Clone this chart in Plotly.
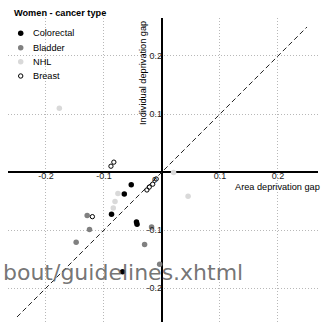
import plotly.graph_objects as go

# Figure geometry (pixels)
W, H = 324, 324
M = dict(l=8, r=6, t=18, b=2)
PW = W - M["l"] - M["r"]
PH = H - M["t"] - M["b"]

x_range = [-0.2655, 0.269]
y_range = [-0.2586, 0.2655]

FONT = "Liberation Sans, Arial, sans-serif"

# Data: area deprivation gap (x) vs individual deprivation gap (y)
categories = ["Colorectal", "Bladder", "NHL", "Breast"]

colorectal_x = [-0.053, -0.065, -0.087, -0.044, -0.043, -0.068]
colorectal_y = [-0.022, -0.038, -0.073, -0.086, -0.090, -0.172]

bladder_x = [-0.129, -0.125, -0.148, -0.018, -0.030, -0.004]
bladder_y = [-0.075, -0.099, -0.121, -0.095, -0.125, -0.159]

nhl_x = [-0.076, -0.081, -0.084, -0.177, 0.020, 0.045]
nhl_y = [-0.037, -0.051, -0.062, 0.110, -0.001, -0.042]

breast_x = [-0.088, -0.083, -0.120, -0.026, -0.022, -0.016, -0.010]
breast_y = [0.010, 0.017, -0.077, -0.031, -0.026, -0.021, -0.012]

diagonal = [-0.25, 0.25]

tick_vals = [-0.2, -0.1, 0.1, 0.2]
tick_text = ["-0.2", "-0.1", "0.1", "0.2"]

series = {
    "Colorectal": (colorectal_x, colorectal_y),
    "Bladder": (bladder_x, bladder_y),
    "NHL": (nhl_x, nhl_y),
    "Breast": (breast_x, breast_y),
}
styles = {
    "Colorectal": dict(symbol="circle", color="#000000", size=5.5, lw=0),
    "Bladder": dict(symbol="circle", color="#808080", size=5.5, lw=0),
    "NHL": dict(symbol="circle", color="#d9d9d9", size=5.5, lw=0),
    "Breast": dict(symbol="circle-open", color="#000000", size=4.3, lw=1),
}


def px_x(p):
    return (p - M["l"]) / PW


def px_y(p):
    return (H - M["b"] - p) / PH


fig = go.Figure()

fig.add_trace(go.Scatter(
    x=diagonal, y=diagonal, mode="lines",
    line=dict(color="#222222", width=1, dash="5px,3px"),
    hoverinfo="skip", showlegend=False,
))

for name in categories:
    xs, ys = series[name]
    st = styles[name]
    fig.add_trace(go.Scatter(
        x=xs, y=ys, mode="markers", name=name, showlegend=False,
        marker=dict(size=st["size"], symbol=st["symbol"], color=st["color"],
                    line=dict(color=st["color"], width=st["lw"])),
    ))

annotations = []
shapes = []

# Legend block drawn in paper space
annotations.append(dict(
    text="<b>Women - cancer type</b>", xref="paper", yref="paper",
    x=px_x(11.5), y=px_y(13), xanchor="left", yanchor="middle",
    showarrow=False, font=dict(family=FONT, size=9.2, color="#000"),
))
legend_rows = [33.3, 47.7, 61.7, 76.0]
for name, row in zip(categories, legend_rows):
    st = styles[name]
    open_marker = st["symbol"] == "circle-open"
    r = 2.2 if open_marker else 2.75
    shapes.append(dict(
        type="circle", xref="paper", yref="paper",
        xsizemode="pixel", ysizemode="pixel",
        xanchor=px_x(20.7), yanchor=px_y(row),
        x0=-r, x1=r, y0=-r, y1=r,
        fillcolor="rgba(0,0,0,0)" if open_marker else st["color"],
        line=dict(color=st["color"], width=1 if open_marker else 0),
    ))
    annotations.append(dict(
        text=name, xref="paper", yref="paper",
        x=px_x(30.5), y=px_y(row), xanchor="left", yanchor="middle",
        showarrow=False, font=dict(family=FONT, size=9.2, color="#000"),
    ))

# Axis titles placed at the ends of the crossing axes
annotations.append(dict(
    text="Area deprivation gap", xref="paper", yref="paper",
    x=px_x(322.5), y=px_y(186.5), xanchor="right", yanchor="middle",
    showarrow=False, font=dict(family=FONT, size=9.2, color="#000"),
))
annotations.append(dict(
    text="Individual deprivation gap", xref="paper", yref="paper",
    x=px_x(142.5), y=px_y(19.5), xanchor="center", yanchor="top", textangle=-90,
    showarrow=False, font=dict(family=FONT, size=9.2, color="#000"),
))
# Shared origin label
annotations.append(dict(
    text="0", xref="x", yref="y", x=0, y=0, xanchor="right", yanchor="top",
    xshift=-3, yshift=-1, showarrow=False,
    font=dict(family=FONT, size=9, color="#222"),
))
# Overlay text
annotations.append(dict(
    text="bout/guidelines.xhtml", xref="paper", yref="paper",
    x=px_x(1), y=px_y(272), xanchor="left", yanchor="middle",
    showarrow=False, font=dict(family="DejaVu Sans", size=22, color="rgba(100,100,100,0.9)"),
))

axis_common = dict(
    tickvals=tick_vals, ticktext=tick_text, ticks="",
    showgrid=True, gridcolor="#b8b8b8", griddash="1px,2px", gridwidth=1,
    zeroline=True, zerolinecolor="#000000", zerolinewidth=1.5,
    showline=False, anchor="free",
    tickfont=dict(family=FONT, size=9, color="#222"),
)

fig.update_layout(
    width=W, height=H, margin=M,
    paper_bgcolor="white", plot_bgcolor="white",
    showlegend=False,
    xaxis=dict(range=x_range, position=(0 - y_range[0]) / (y_range[1] - y_range[0]),
               ticklabelstandoff=-3, **axis_common),
    yaxis=dict(range=y_range, position=(0 - x_range[0]) / (x_range[1] - x_range[0]),
               **axis_common),
    annotations=annotations, shapes=shapes,
)

fig.write_html("out.html")
